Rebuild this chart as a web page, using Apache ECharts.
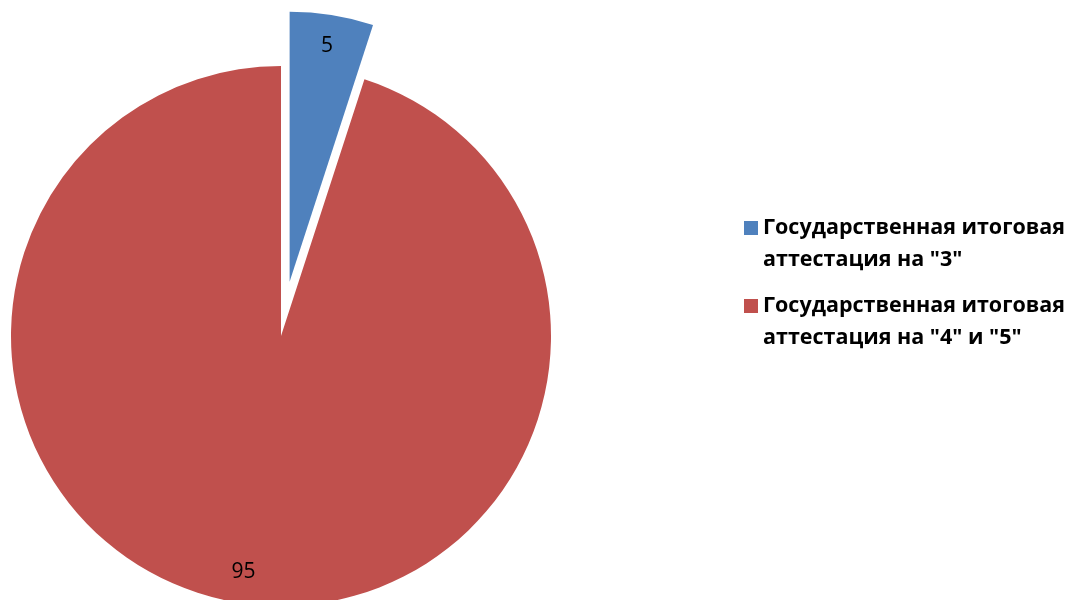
<!DOCTYPE html>
<html>
<head>
<meta charset="utf-8">
<script src="https://cdn.jsdelivr.net/npm/echarts@6/dist/echarts.min.js"></script>
<style>
  html, body { margin: 0; padding: 0; background: #fff; }
  #chart { width: 1073px; height: 600px; }
</style>
</head>
<body>
<div id="chart"></div>
<script>
var categories = [
  'Государственная итоговая\nаттестация на "3"',
  'Государственная итоговая\nаттестация на "4" и "5"'
];
var values = [5, 95];
var colors = ['#4F81BD', '#C0504D'];

// square in the upper part of a tall icon box so it lines up with the first text line
var legendIcon = 'path://M0 0L0 0M0 0.643h1v1h-1zM0 4.571L0 4.571';

var chart = echarts.init(document.getElementById('chart'));

var pieData = categories.map(function (name, i) {
  return { name: name, value: values[i], selected: i === 0 };
});

var option = {
  animation: false,
  color: colors,
  legend: {
    orient: 'vertical',
    left: 739,
    top: 207,
    icon: legendIcon,
    itemWidth: 14,
    itemHeight: 64,
    itemGap: 14,
    textStyle: {
      fontFamily: 'Open Sans',
      fontWeight: 'bold',
      fontSize: 21.5,
      lineHeight: 32,
      color: '#000'
    }
  },
  series: [{
    name: 'main',
    type: 'pie',
    center: [281, 336],
    radius: [0, 270],
    startAngle: 90,
    clockwise: true,
    selectedMode: 'single',
    selectedOffset: 55,
    label: { show: false },
    labelLine: { show: false },
    emphasis: { scale: false },
    data: pieData
  }, {
    // transparent ring that only carries the value labels
    name: 'labels',
    type: 'pie',
    center: [281, 336],
    radius: [202, 270],
    startAngle: 90,
    clockwise: true,
    silent: true,
    selectedMode: 'single',
    selectedOffset: 55,
    itemStyle: { color: 'rgba(0,0,0,0)' },
    label: {
      show: true,
      position: 'inside',
      formatter: '{c}',
      fontFamily: 'Open Sans',
      fontSize: 21,
      color: '#000'
    },
    labelLine: { show: false },
    data: pieData
  }]
};

chart.setOption(option);
</script>
</body>
</html>
